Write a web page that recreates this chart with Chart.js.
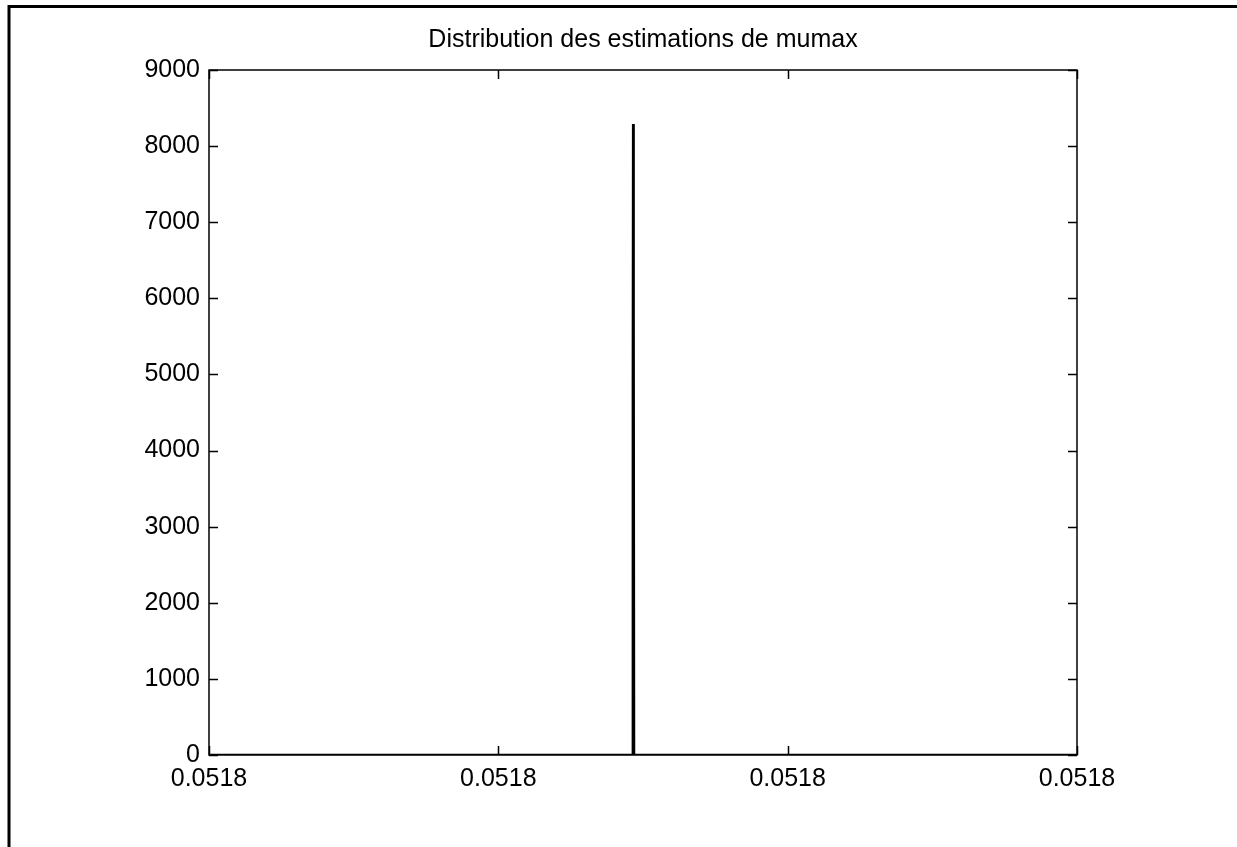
<!DOCTYPE html>
<html>
<head>
<meta charset="utf-8">
<title>Distribution des estimations de mumax</title>
<script src="https://cdn.jsdelivr.net/npm/chart.js@4.4.1/dist/chart.umd.min.js"></script>
<style>
  html, body { margin: 0; padding: 0; background: #fff; }
  #wrap { width: 1237px; height: 847px; position: relative; }
</style>
</head>
<body>
<div id="wrap"><canvas id="graficoDistribucion"></canvas></div>
<script>
// donnees
const titre = "Distribution des estimations de mumax";
const xTicks = [0.05180, 0.05181, 0.05182, 0.05183];
const yTicks = [0, 1000, 2000, 3000, 4000, 5000, 6000, 7000, 8000, 9000];
const mumax = [0.05180, 0.05181464, 0.05181465, 0.05181466, 0.05181467, 0.05181468, 0.05181469, 0.05183];
const densite = [0, 0, 4900, 8290, 6900, 5900, 0, 0];

const famille = "'Liberation Sans', Arial, sans-serif";
const taille = 25;

// cadre, boite des axes, ticks vers l'interieur et titre
const decor = {
  id: 'decor',
  beforeDraw(chart) {
    const c = chart.ctx;
    c.save();
    c.strokeStyle = '#000';
    c.lineWidth = 3;
    c.beginPath();
    c.moveTo(9, 847);
    c.lineTo(9, 6.5);
    c.lineTo(1237, 6.5);
    c.stroke();
    c.restore();
  },
  afterDraw(chart) {
    const c = chart.ctx;
    const a = chart.chartArea;
    const sx = chart.scales.x, sy = chart.scales.y;
    c.save();
    c.strokeStyle = '#000';
    c.lineWidth = 1.5;
    c.strokeRect(a.left, a.top, a.right - a.left, a.bottom - a.top);
    c.beginPath();
    const t = 9;
    yTicks.forEach(v => {
      const y = Math.round(sy.getPixelForValue(v)) + 0.5;
      c.moveTo(a.left, y); c.lineTo(a.left + t, y);
      c.moveTo(a.right, y); c.lineTo(a.right - t, y);
    });
    xTicks.forEach(v => {
      const x = Math.round(sx.getPixelForValue(v)) + 0.5;
      c.moveTo(x, a.bottom); c.lineTo(x, a.bottom - t);
      c.moveTo(x, a.top); c.lineTo(x, a.top + t);
    });
    c.stroke();
    c.fillStyle = '#000';
    c.font = taille + "px " + famille;
    c.textAlign = 'center';
    c.textBaseline = 'middle';
    c.fillText(titre, (a.left + a.right) / 2, 40);
    c.restore();
  }
};

document.addEventListener("DOMContentLoaded", () => {
  const ctx = document.getElementById('graficoDistribucion');
  new Chart(ctx, {
    type: 'scatter',
    data: {
      datasets: [{
        data: mumax.map((x, i) => ({ x: x, y: densite[i] })),
        showLine: true,
        borderColor: '#000',
        borderWidth: 2.5,
        pointRadius: 0,
        tension: 0
      }]
    },
    options: {
      responsive: true,
      maintainAspectRatio: false,
      animation: false,
      layout: { padding: { top: 70, right: 160, bottom: 0, left: 0 } },
      plugins: { legend: { display: false }, tooltip: { enabled: false }, title: { display: false } },
      scales: {
        x: {
          type: 'linear',
          min: xTicks[0],
          max: xTicks[xTicks.length - 1],
          afterBuildTicks: s => { s.ticks = xTicks.map(v => ({ value: v })); },
          afterFit: s => { s.height = 92; },
          grid: { display: false, drawTicks: false },
          border: { display: false },
          ticks: {
            color: '#000',
            font: { family: famille, size: taille, lineHeight: 1.0 },
            padding: 12,
            maxRotation: 0,
            autoSkip: false,
            callback: v => Number(v).toFixed(4)
          }
        },
        y: {
          min: 0,
          max: 9000,
          afterBuildTicks: s => { s.ticks = yTicks.map(v => ({ value: v })); },
          afterFit: s => { s.width = 209; },
          grid: { display: false, drawTicks: false },
          border: { display: false },
          ticks: {
            color: '#000',
            font: { family: famille, size: taille },
            padding: 9,
            autoSkip: false,
            callback: v => String(v)
          }
        }
      }
    },
    plugins: [decor]
  });
});
</script>
</body>
</html>
